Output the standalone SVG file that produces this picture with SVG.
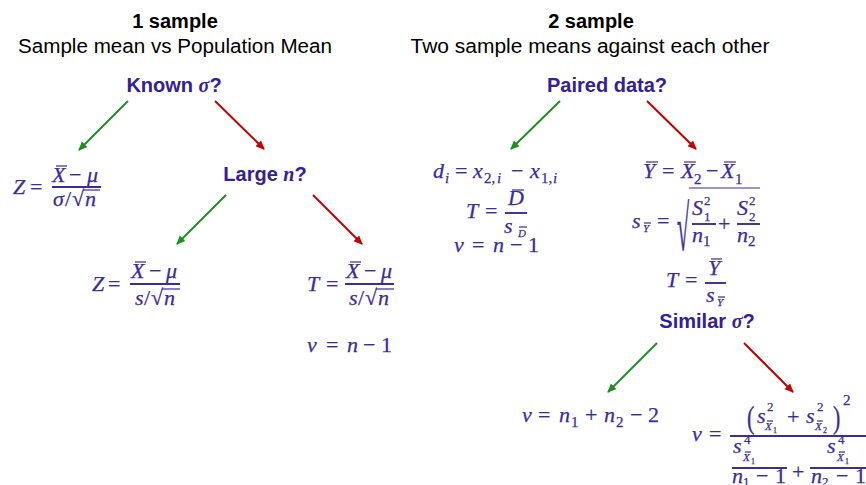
<svg xmlns="http://www.w3.org/2000/svg" width="866" height="485" viewBox="0 0 866 485">
<style>
.h{font-family:"Liberation Sans",Arial,sans-serif;font-size:20px;fill:#000;text-anchor:middle}
.hb{font-weight:bold}
.q{font-family:"Liberation Sans",Arial,sans-serif;font-size:20px;font-weight:bold;fill:#32209c;text-anchor:middle}
.qi{font-family:"Liberation Serif",serif;font-style:italic;font-weight:bold}
.m{font-family:"Liberation Serif","DejaVu Serif",serif;font-size:22px;fill:#3c2b9e;stroke:#3c2b9e;stroke-width:0.25}
.i{font-style:italic}
.s{font-size:15px}
.st{font-size:13px}
.ss{font-size:11px}
.sss{font-size:8px}
.fl{stroke:#3c2b9e;stroke-width:1.9;fill:none}
.bar{stroke:#3c2b9e;stroke-width:1.2;fill:none}
.g{stroke:#1f8f1f;stroke-width:2;fill:none}
.r{stroke:#c40000;stroke-width:2;fill:none}
</style>
<defs>
<marker id="ag" markerWidth="10" markerHeight="10" refX="8" refY="4" orient="auto" markerUnits="userSpaceOnUse"><path d="M0,0 L9,4 L0,8 z" fill="#1f8f1f"/></marker>
<marker id="ar" markerWidth="10" markerHeight="10" refX="8" refY="4" orient="auto" markerUnits="userSpaceOnUse"><path d="M0,0 L9,4 L0,8 z" fill="#c40000"/></marker>
</defs>

<g id="header-1sample">
<text class="h hb" x="175" y="28">1 sample</text>
<text class="h" x="175" y="53" textLength="314" lengthAdjust="spacingAndGlyphs">Sample mean vs Population Mean</text>
</g>
<g id="header-2sample">
<text class="h hb" x="591" y="28">2 sample</text>
<text class="h" x="590" y="53" textLength="359" lengthAdjust="spacingAndGlyphs">Two sample means against each other</text>
</g>

<g id="known-sigma"><text class="q" x="174" y="92">Known <tspan class="qi">σ</tspan>?</text></g>
<g id="large-n"><text class="q" x="265" y="181">Large <tspan class="qi">n</tspan>?</text></g>
<g id="paired-data"><text class="q" x="607" y="92">Paired data?</text></g>
<g id="similar-sigma"><text class="q" x="707" y="328">Similar <tspan class="qi">σ</tspan>?</text></g>

<g id="z-known-sigma">
<text class="m"><tspan class="i" x="13" y="194">Z</tspan><tspan x="30" y="194">=</tspan>
<tspan class="i" x="52" y="182">X</tspan><tspan x="69" y="182">−</tspan><tspan class="i" x="87" y="182">μ</tspan>
<tspan class="i" x="53" y="206">σ</tspan><tspan x="65" y="206">/</tspan><tspan x="72" y="206">√</tspan><tspan class="i" x="85" y="206">n</tspan></text>
<line class="bar" x1="56" y1="166" x2="67" y2="166"/>
<line class="fl" x1="52" y1="187" x2="101" y2="187"/>
<line class="bar" x1="83" y1="190" x2="100" y2="190"/>
</g>

<g id="z-large-n">
<text class="m"><tspan class="i" x="92" y="291">Z</tspan><tspan x="108" y="291">=</tspan>
<tspan class="i" x="131" y="278">X</tspan><tspan x="149" y="278">−</tspan><tspan class="i" x="166" y="278">μ</tspan>
<tspan class="i" x="135" y="305">s</tspan><tspan x="144" y="305">/</tspan><tspan x="151" y="305">√</tspan><tspan class="i" x="164" y="305">n</tspan></text>
<line class="bar" x1="135" y1="262" x2="146" y2="262"/>
<line class="fl" x1="130" y1="284" x2="180" y2="284"/>
<line class="bar" x1="162" y1="289" x2="180" y2="289"/>
</g>

<g id="t-small-n">
<text class="m"><tspan class="i" x="307" y="291">T</tspan><tspan x="326" y="291">=</tspan>
<tspan class="i" x="346" y="278">X</tspan><tspan x="364" y="278">−</tspan><tspan class="i" x="381" y="278">μ</tspan>
<tspan class="i" x="349" y="305">s</tspan><tspan x="358" y="305">/</tspan><tspan x="365" y="305">√</tspan><tspan class="i" x="378" y="305">n</tspan>
<tspan class="i" x="307" y="352">ν</tspan><tspan x="326" y="352">=</tspan><tspan class="i" x="347" y="352">n</tspan><tspan x="363" y="352">−</tspan><tspan x="381" y="352">1</tspan></text>
<line class="bar" x1="350" y1="262" x2="361" y2="262"/>
<line class="fl" x1="345" y1="284" x2="394" y2="284"/>
<line class="bar" x1="376" y1="289" x2="394" y2="289"/>
</g>

<g id="paired-formulas">
<text class="m"><tspan class="i" x="433" y="178">d</tspan><tspan class="i s" x="445" y="183">i</tspan><tspan x="455" y="178">=</tspan>
<tspan class="i" x="473" y="178">x</tspan><tspan class="s" x="484" y="183">2,</tspan><tspan class="i s" x="497" y="183">i</tspan><tspan x="511" y="178">−</tspan>
<tspan class="i" x="530" y="178">x</tspan><tspan class="s" x="541" y="183">1,</tspan><tspan class="i s" x="553" y="183">i</tspan>
<tspan class="i" x="466" y="218">T</tspan><tspan x="485" y="218">=</tspan>
<tspan class="i" x="508" y="205">D</tspan>
<tspan class="i" x="504" y="233">s</tspan><tspan class="i ss" x="518" y="237">D</tspan>
<tspan class="i" x="454" y="252">ν</tspan><tspan x="472" y="252">=</tspan><tspan class="i" x="493" y="252">n</tspan><tspan x="510" y="252">−</tspan><tspan x="528" y="252">1</tspan></text>
<line class="bar" x1="512" y1="190" x2="524" y2="190"/>
<line class="fl" x1="505" y1="213" x2="527" y2="213"/>
<line class="bar" x1="519" y1="227" x2="527" y2="227"/>
</g>

<g id="unpaired-formulas">
<text class="m"><tspan class="i" x="643" y="178">Y</tspan><tspan x="662" y="178">=</tspan>
<tspan class="i" x="681" y="178">X</tspan><tspan class="s" x="694" y="184">2</tspan><tspan x="706" y="178">−</tspan>
<tspan class="i" x="721" y="178">X</tspan><tspan class="s" x="735" y="184">1</tspan>
<tspan class="i" x="632" y="228">s</tspan><tspan class="i ss" x="643" y="232">Y</tspan><tspan x="657" y="228">=</tspan>
<tspan class="i" x="692" y="215">S</tspan><tspan class="st" x="704" y="205">2</tspan><tspan class="st" x="704" y="221">1</tspan>
<tspan class="i" x="692" y="242">n</tspan><tspan class="s" x="703" y="246">1</tspan>
<tspan x="718" y="231">+</tspan>
<tspan class="i" x="737" y="215">S</tspan><tspan class="st" x="749" y="205">2</tspan><tspan class="st" x="749" y="221">2</tspan>
<tspan class="i" x="737" y="242">n</tspan><tspan class="s" x="748" y="246">2</tspan>
<tspan class="i" x="666" y="287">T</tspan><tspan x="685" y="287">=</tspan>
<tspan class="i" x="708" y="275">Y</tspan>
<tspan class="i" x="706" y="302">s</tspan><tspan class="i ss" x="717" y="306">Y</tspan></text>
<text class="m" transform="translate(677,250) scale(1,2.9)">√</text>
<line class="bar" x1="646" y1="162" x2="658" y2="162"/>
<line class="bar" x1="684" y1="162" x2="696" y2="162"/>
<line class="bar" x1="724" y1="162" x2="736" y2="162"/>
<line class="bar" x1="644" y1="223" x2="651" y2="223"/>
<line class="fl" x1="692" y1="224" x2="716" y2="224"/>
<line class="fl" x1="737" y1="224" x2="760" y2="224"/>
<line class="bar" x1="689" y1="188" x2="760" y2="188"/>
<line class="bar" x1="711" y1="259" x2="722" y2="259"/>
<line class="fl" x1="705" y1="283" x2="726" y2="283"/>
<line class="bar" x1="718" y1="297" x2="725" y2="297"/>
</g>

<g id="nu-similar">
<text class="m"><tspan class="i" x="522" y="422">ν</tspan><tspan x="538" y="422">=</tspan>
<tspan class="i" x="559" y="422">n</tspan><tspan class="s" x="571" y="427">1</tspan><tspan x="585" y="422">+</tspan>
<tspan class="i" x="604" y="422">n</tspan><tspan class="s" x="616" y="427">2</tspan><tspan x="630" y="422">−</tspan><tspan x="648" y="422">2</tspan></text>
</g>

<g id="nu-welch">
<text class="m"><tspan class="i" x="692" y="441">ν</tspan><tspan x="709" y="441">=</tspan>
<tspan class="i" x="757" y="423">s</tspan><tspan class="st" x="767" y="411">2</tspan><tspan class="i ss" x="765" y="430">X</tspan><tspan class="sss" x="773" y="433">1</tspan>
<tspan x="787" y="424">+</tspan>
<tspan class="i" x="806" y="423">s</tspan><tspan class="st" x="817" y="411">2</tspan><tspan class="i ss" x="815" y="430">X</tspan><tspan class="sss" x="823" y="433">2</tspan>
<tspan class="s" x="843" y="405">2</tspan>
<tspan class="i" x="733" y="453">s</tspan><tspan class="st" x="744" y="444">4</tspan><tspan class="i ss" x="743" y="461">X</tspan><tspan class="sss" x="751" y="464">1</tspan>
<tspan class="i" x="732" y="483">n</tspan><tspan class="st" x="743" y="486">1</tspan><tspan x="756" y="483">−</tspan><tspan x="775" y="483">1</tspan>
<tspan x="792" y="479">+</tspan>
<tspan class="i" x="827" y="453">s</tspan><tspan class="st" x="838" y="444">4</tspan><tspan class="i ss" x="837" y="461">X</tspan><tspan class="sss" x="845" y="464">1</tspan>
<tspan class="i" x="811" y="483">n</tspan><tspan class="st" x="822" y="486">2</tspan><tspan x="836" y="483">−</tspan><tspan x="855" y="483">1</tspan></text>
<text class="m" transform="translate(747,428) scale(1,1.45)">(</text>
<text class="m" transform="translate(833,428) scale(1,1.45)">)</text>
<line class="bar" x1="767" y1="421" x2="773" y2="421"/>
<line class="bar" x1="817" y1="421" x2="823" y2="421"/>
<line class="bar" x1="745" y1="452" x2="751" y2="452"/>
<line class="bar" x1="839" y1="452" x2="845" y2="452"/>
<line class="fl" x1="730" y1="436" x2="866" y2="436"/>
<line class="fl" x1="732" y1="468" x2="787" y2="468"/>
<line class="fl" x1="810" y1="468" x2="866" y2="468"/>
</g>

<g id="connectors">
<line class="g" x1="128" y1="101" x2="79" y2="150" marker-end="url(#ag)"/>
<line class="r" x1="215" y1="101" x2="264" y2="149" marker-end="url(#ar)"/>
<line class="g" x1="226" y1="195" x2="177" y2="244" marker-end="url(#ag)"/>
<line class="r" x1="313" y1="195" x2="362" y2="244" marker-end="url(#ar)"/>
<line class="g" x1="560" y1="101" x2="511" y2="149" marker-end="url(#ag)"/>
<line class="r" x1="647" y1="101" x2="696" y2="149" marker-end="url(#ar)"/>
<line class="g" x1="657" y1="343" x2="608" y2="392" marker-end="url(#ag)"/>
<line class="r" x1="744" y1="343" x2="793" y2="392" marker-end="url(#ar)"/>
</g>
</svg>
